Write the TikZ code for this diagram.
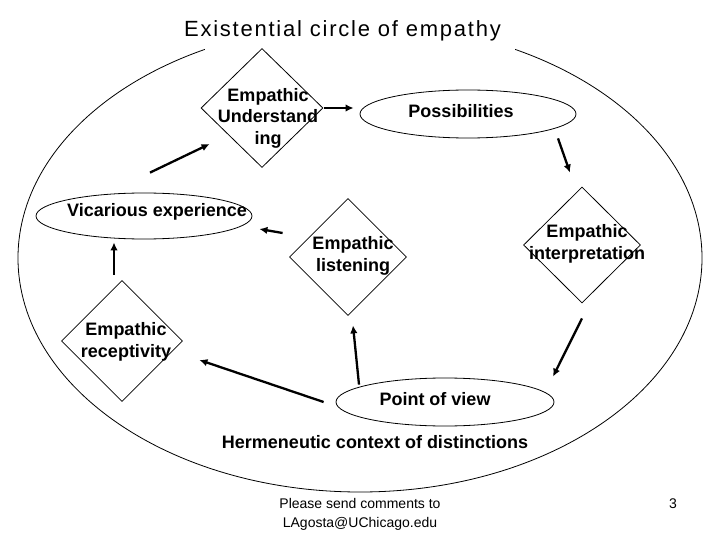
\documentclass[tikz,border=0pt]{standalone}
\usepackage{fontspec}
\setmainfont{Liberation Sans}
\usetikzlibrary{shapes.geometric,arrows.meta,calc}
\begin{document}
\begin{tikzpicture}[x=1pt,y=-1pt,
  dia/.style={diamond, draw, line width=0.8pt, inner sep=0pt},
  ell/.style={ellipse, draw, line width=0.8pt, inner sep=0pt},
  lbl/.style={font=\fontsize{18}{21.5}\selectfont\bfseries, align=center, inner sep=0pt},
  arr/.style={line width=2.3pt, -{Latex[length=8pt,width=7.5pt]}},
]
\useasboundingbox (0,0) rectangle (720,540);
% outer existential circle
\node[ell, minimum width=684, minimum height=468] (outer) at (360,258) {};
\fill[white] (205,6) rectangle (515,50);
\node[inner sep=0pt, font=\fontsize{22}{26}\selectfont\addfontfeature{LetterSpace=8}] (title) at (342.5,31) {Existential circle of empathy};

% diamonds
\node[dia, minimum width=122, minimum height=119,
  label={[lbl, xshift=6pt, yshift=-10pt]center:Empathic\\Understand\\ing}] (und) at (262,108) {};
\node[dia, minimum width=117, minimum height=117,
  label={[lbl, xshift=5pt, yshift=1pt]center:Empathic\\listening}] (lis) at (348,257) {};
\node[dia, minimum width=117, minimum height=116,
  label={[lbl, xshift=5pt, yshift=1pt]center:Empathic\\interpretation}] (int) at (582,245) {};
\node[dia, minimum width=121, minimum height=121,
  label={[lbl, xshift=4pt, yshift=-1pt]center:Empathic\\receptivity}] (rec) at (122,341) {};

% ellipses
\node[ell, minimum width=216, minimum height=48,
  label={[lbl, xshift=-7pt, yshift=3pt]center:Possibilities}] (pos) at (468,114) {};
\node[ell, minimum width=216, minimum height=46,
  label={[lbl, xshift=13pt, yshift=4pt]center:Vicarious experience}] (vic) at (144,216) {};
\node[ell, minimum width=218, minimum height=48,
  label={[lbl, xshift=-10pt, yshift=3pt]center:Point of view}] (pov) at (445,402) {};

% texts
\node[lbl] (herm) at (375,442) {Hermeneutic context of distinctions};
\node[inner sep=0pt, align=center, font=\fontsize{14}{19}\selectfont] (foot) at (360,514) {Please send comments to\\LAgosta@UChicago.edu};
\node[inner sep=0pt, font=\fontsize{14}{17}\selectfont] (pnum) at (673,504) {3};

% arrows
\draw[arr] ($(und.east)+(1,0)$) -- ($(pos.west)+(-6,-6)$);
\draw[arr] ($(pos.south)+(90,0)$) -- ($(int.north)+(-12,-14)$);
\draw[arr] ($(int.south)+(0,15)$) -- ($(pov.north)+(108,-1)$);
\draw[arr] ($(pov.north)+(-86,7)$) -- ($(lis.south)+(5,9.5)$);
\draw[arr] ($(pov.west)+(-12,0)$) -- ($(rec.east)+(16.5,19)$);
\draw[arr] ($(lis.west)+(-6.5,-24)$) -- ($(vic.east)+(7,13)$);
\draw[arr] ($(rec.north)+(-8,-5.5)$) -- ($(vic.south)+(-30,3)$);
\draw[arr] ($(vic.north)+(6,-20)$) -- ($(und.west)+(9,36)$);
\end{tikzpicture}
\end{document}
